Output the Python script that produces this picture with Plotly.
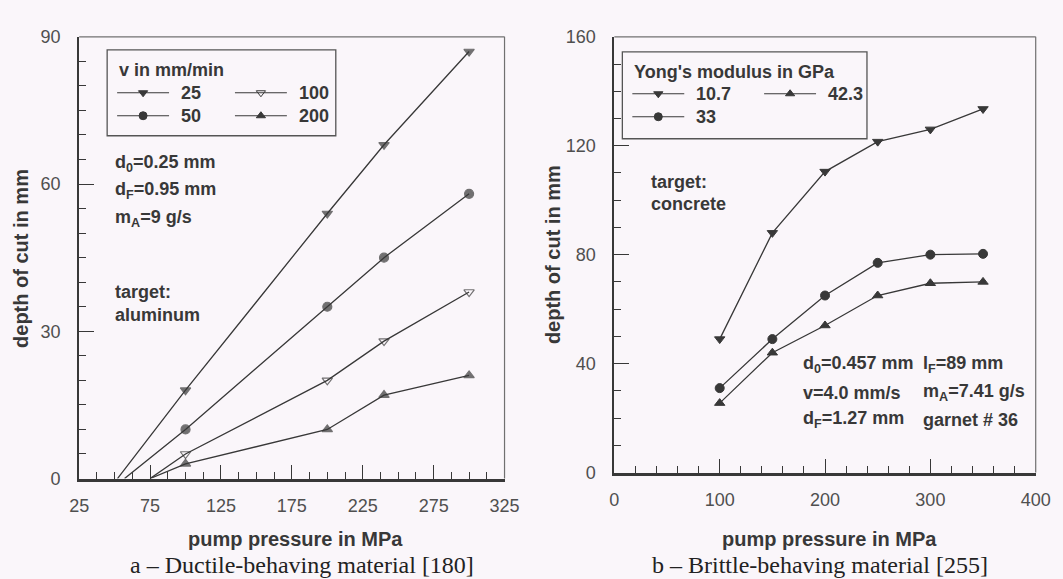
import plotly.graph_objects as go

# ---------------- data ----------------
# panel a: ductile material (aluminum), v in mm/min
pressure_a = [100, 200, 240, 300]
series_a_names = ["25", "50", "100", "200"]
onset_a = [52, 57, 75, 75]          # pressure where depth reaches 0 (line start)
depth_a_25 = [18, 54, 68, 87]
depth_a_50 = [10, 35, 45, 58]
depth_a_100 = [5, 20, 28, 38]
depth_a_200 = [3, 10, 17, 21]

# panel b: brittle material (concrete), Young's modulus in GPa
pressure_b = [100, 150, 200, 250, 300, 350]
series_b_names = ["10.7", "33", "42.3"]
depth_b_107 = [49, 88, 110.5, 121.5, 126, 133.5]
depth_b_33 = [31, 49, 65, 77, 80, 80.3]
depth_b_423 = [25.5, 44, 54, 65, 69.5, 70]

x_ticks_a = [25, 75, 125, 175, 225, 275, 325]
y_ticks_a = [0, 30, 60, 90]
x_ticks_b = [0, 100, 200, 300, 400]
y_ticks_b = [0, 40, 80, 120, 160]

# ---------------- style ----------------
W, H = 1063, 579
BG = "#faf6fa"
INK = "#383838"
SANS = "Liberation Sans, Arial, Helvetica, sans-serif"
SERIF = "Liberation Serif, Times New Roman, serif"

# screen-pixel -> paper fraction (compensates the page offset/scale seen in rendering)
def px(x):
    return ((x - 9.7) / 0.978) / W

def py(y):
    return 1 - ((y - 8.2) / 0.966) / H

fig = go.Figure()

sym_a = ["triangle-down", "circle", "triangle-down-open", "triangle-up"]
vals_a = [depth_a_25, depth_a_50, depth_a_100, depth_a_200]
for name, sym, ons, vals in zip(series_a_names, sym_a, onset_a, vals_a):
    fig.add_trace(go.Scatter(
        x=[ons] + pressure_a, y=[0] + vals, mode="lines+markers",
        line=dict(color=INK, width=1.3),
        marker=dict(symbol=sym, size=[0] + [9] * len(vals), color=INK,
                    line=dict(color=INK, width=1.2)),
        name=name, showlegend=False, xaxis="x", yaxis="y", cliponaxis=False))

sym_b = ["triangle-down", "circle", "triangle-up"]
vals_b = [depth_b_107, depth_b_33, depth_b_423]
for name, sym, vals in zip(series_b_names, sym_b, vals_b):
    fig.add_trace(go.Scatter(
        x=pressure_b, y=vals, mode="lines+markers",
        line=dict(color=INK, width=1.3),
        marker=dict(symbol=sym, size=9, color=INK, line=dict(color=INK, width=1)),
        name=name, showlegend=False, xaxis="x2", yaxis="y2"))

# ---- legend samples drawn on an invisible full-page overlay (paper fractions) ----
legend_a = [("25", sym_a[0], 117, 91), ("100", sym_a[2], 235, 91),
            ("50", sym_a[1], 117, 114), ("200", sym_a[3], 235, 114)]
legend_b = [("10.7", sym_b[0], 633, 92), ("42.3", sym_b[2], 765, 92),
            ("33", sym_b[1], 633, 115)]
shapes = []
annotations = []
for lab, sym, x0, y0 in legend_a + legend_b:
    fig.add_trace(go.Scatter(
        x=[px(x0), px(x0 + 52)], y=[py(y0), py(y0)], mode="lines",
        line=dict(color=INK, width=1.2),
        showlegend=False, hoverinfo="skip", xaxis="x3", yaxis="y3"))
    fig.add_trace(go.Scatter(
        x=[px(x0 + 26)], y=[py(y0)], mode="markers",
        marker=dict(symbol=sym, size=8, color=INK, line=dict(color=INK, width=1)),
        showlegend=False, hoverinfo="skip", xaxis="x3", yaxis="y3"))
    annotations.append(dict(x=px(x0 + 62), y=py(y0), xref="paper", yref="paper",
                            text="<b>%s</b>" % lab, showarrow=False, xanchor="left",
                            yanchor="middle", font=dict(family=SANS, size=18, color=INK)))

# legend boxes
for (x0, y0, x1, y1) in [(107, 48, 336, 134), (623, 50, 868, 137)]:
    shapes.append(dict(type="rect", xref="paper", yref="paper",
                       x0=px(x0), x1=px(x1), y0=py(y1), y1=py(y0),
                       line=dict(color="#555", width=1.3)))

# plot frames: thin top/right lines
for (l, t, r, b) in [(79, 35, 505, 477), (615, 35, 1037, 471)]:
    shapes.append(dict(type="line", xref="paper", yref="paper", x0=px(l), x1=px(r),
                       y0=py(t), y1=py(t), line=dict(color="#707070", width=1.2)))
    shapes.append(dict(type="line", xref="paper", yref="paper", x0=px(r), x1=px(r),
                       y0=py(t), y1=py(b), line=dict(color="#707070", width=1.2)))

def txt(x, y, s, size=18, anchor="left", family=SANS, color=INK, angle=0):
    annotations.append(dict(x=px(x), y=py(y), xref="paper", yref="paper", text=s,
                            showarrow=False, xanchor=anchor, yanchor="middle",
                            textangle=angle, font=dict(family=family, size=size, color=color)))

# legend titles
txt(117, 68, "<b>v in mm/min</b>")
txt(633, 70, "<b>Yong's modulus in GPa</b>")

# panel a notes
txt(113, 162, "<b>d<sub>0</sub>=0.25 mm</b>")
txt(113, 189, "<b>d<sub>F</sub>=0.95 mm</b>")
txt(113, 217, "<b>m<sub>A</sub>=9 g/s</b>")
txt(113, 290, "<b>target:</b>")
txt(113, 313, "<b>aluminum</b>")

# panel b notes
txt(650, 180, "<b>target:</b>")
txt(650, 202, "<b>concrete</b>")
txt(802, 363, "<b>d<sub>0</sub>=0.457 mm</b>")
txt(922, 363, "<b>l<sub>F</sub>=89 mm</b>")
txt(802, 391, "<b>v=4.0 mm/s</b>")
txt(922, 391, "<b>m<sub>A</sub>=7.41 g/s</b>")
txt(802, 418, "<b>d<sub>F</sub>=1.27 mm</b>")
txt(922, 418, "<b>garnet # 36</b>")

# axis titles
txt(296, 537, "<b>pump pressure in MPa</b>", size=20, anchor="center")
txt(830, 537, "<b>pump pressure in MPa</b>", size=20, anchor="center")
txt(20, 257, "<b>depth of cut in mm</b>", size=20, anchor="center", angle=-90)
txt(553, 253, "<b>depth of cut in mm</b>", size=20, anchor="center", angle=-90)

# captions
txt(302, 564, "a – Ductile-behaving material [180]", size=24, anchor="center",
    family=SERIF, color="#222")
txt(821, 564, "b – Brittle-behaving material [255]", size=24, anchor="center",
    family=SERIF, color="#222")

tickfont = dict(family=SANS, size=18, color="#4f4f4f")

def xax(domain, ticks, minor_dt, anchor):
    return dict(domain=domain, range=[ticks[0], ticks[-1]], tickmode="linear",
                tick0=ticks[0], dtick=ticks[1] - ticks[0], ticks="inside", ticklen=14,
                tickwidth=1.2, tickcolor=INK, showgrid=False, zeroline=False,
                showline=True, linecolor=INK, linewidth=2.5, tickfont=tickfont,
                ticklabelstandoff=9, anchor=anchor, fixedrange=True,
                minor=dict(ticks="inside", ticklen=7, dtick=minor_dt, tick0=ticks[0],
                           tickcolor=INK, tickwidth=1.1, showgrid=False))

def yax(domain, ticks, minor_dt, anchor):
    return dict(domain=domain, range=[ticks[0], ticks[-1]], tickmode="linear",
                tick0=ticks[0], dtick=ticks[1] - ticks[0], ticks="inside", ticklen=15,
                tickwidth=1.2, tickcolor=INK, showgrid=False, zeroline=False,
                showline=True, linecolor=INK, linewidth=2, tickfont=tickfont,
                ticklabelstandoff=13, anchor=anchor, fixedrange=True,
                minor=dict(ticks="inside", ticklen=7, dtick=minor_dt, tick0=ticks[0],
                           tickcolor=INK, tickwidth=1.1, showgrid=False))

fig.update_layout(
    width=W, height=H, margin=dict(l=0, r=0, t=0, b=0),
    paper_bgcolor=BG, plot_bgcolor="rgba(0,0,0,0)", showlegend=False,
    xaxis=xax([px(79), px(505)], x_ticks_a, 12.5, "y"),
    yaxis=yax([py(477), py(35)], y_ticks_a, 5, "x"),
    xaxis2=xax([px(615), px(1037)], x_ticks_b, 20, "y2"),
    yaxis2=yax([py(471), py(35)], y_ticks_b, 10, "x2"),
    xaxis3=dict(domain=[0, 1], range=[0, 1], visible=False, fixedrange=True, anchor="y3"),
    yaxis3=dict(domain=[0, 1], range=[0, 1], visible=False, fixedrange=True, anchor="x3"),
    shapes=shapes, annotations=annotations,
)

fig.write_html("out.html", config={"displayModeBar": False},
               post_script="document.body.style.margin='0';")
